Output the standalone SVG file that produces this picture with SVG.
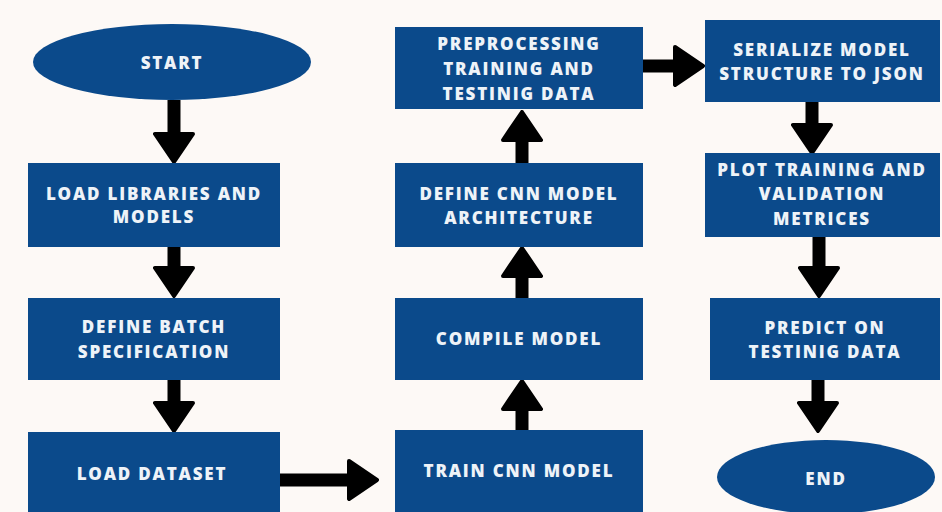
<svg xmlns="http://www.w3.org/2000/svg" width="942" height="512" viewBox="0 0 942 512">
<style>
.n{fill:#0b4a8b}
.t{font-family:"Open Sans","Liberation Sans",sans-serif;font-weight:800;font-size:17px;letter-spacing:1.8px;fill:#eef3f8;text-anchor:middle;dominant-baseline:central}
.c line{stroke:#000;stroke-width:13;marker-end:url(#ah)}
</style>
<defs>
<marker id="ah" markerUnits="userSpaceOnUse" viewBox="0 0 32 42" markerWidth="32" markerHeight="42" refX="2" refY="21" orient="auto">
<path d="M2,2 L30,21 L2,40 Z" fill="#000" stroke="#000" stroke-width="4" stroke-linejoin="round"/>
</marker>
</defs>
<rect width="942" height="512" fill="#fdf9f6"/>
<g class="c" id="connectors">
<line x1="174" y1="100" x2="174" y2="134"/>
<line x1="174" y1="247" x2="174" y2="268"/>
<line x1="174" y1="380" x2="174" y2="403"/>
<line x1="280" y1="480" x2="349" y2="480"/>
<line x1="522" y1="430" x2="522" y2="409"/>
<line x1="522" y1="298" x2="522" y2="276"/>
<line x1="522" y1="163" x2="522" y2="140"/>
<line x1="643" y1="66" x2="675" y2="66"/>
<line x1="812" y1="102" x2="812" y2="125"/>
<line x1="819" y1="237" x2="819" y2="268"/>
<line x1="818" y1="380" x2="818" y2="403"/>
</g>
<g id="start"><ellipse class="n" cx="172" cy="62" rx="139" ry="38"/><text class="t" x="172" y="62">START</text></g>
<g id="load-libraries"><rect class="n" x="28" y="163" width="252" height="84"/><text class="t" x="154" y="193">LOAD LIBRARIES AND</text><text class="t" x="154" y="216">MODELS</text></g>
<g id="define-batch"><rect class="n" x="28" y="298" width="252" height="82"/><text class="t" x="154" y="326">DEFINE BATCH</text><text class="t" x="154" y="351">SPECIFICATION</text></g>
<g id="load-dataset"><rect class="n" x="28" y="432" width="252" height="80"/><text class="t" x="152" y="473">LOAD DATASET</text></g>
<g id="train"><rect class="n" x="395" y="430" width="248" height="82"/><text class="t" x="519" y="470">TRAIN CNN MODEL</text></g>
<g id="compile"><rect class="n" x="395" y="298" width="248" height="82"/><text class="t" x="519" y="338">COMPILE MODEL</text></g>
<g id="define-cnn"><rect class="n" x="395" y="163" width="248" height="84"/><text class="t" x="519" y="193">DEFINE CNN MODEL</text><text class="t" x="519" y="217">ARCHITECTURE</text></g>
<g id="preprocessing"><rect class="n" x="395" y="27" width="248" height="82"/><text class="t" x="519" y="43">PREPROCESSING</text><text class="t" x="519" y="68">TRAINING AND</text><text class="t" x="519" y="93">TESTINIG DATA</text></g>
<g id="serialize"><rect class="n" x="705" y="20" width="235" height="82"/><text class="t" x="822" y="49">SERIALIZE MODEL</text><text class="t" x="822" y="73">STRUCTURE TO JSON</text></g>
<g id="plot"><rect class="n" x="705" y="153" width="235" height="84"/><text class="t" x="822" y="169">PLOT TRAINING AND</text><text class="t" x="822" y="193">VALIDATION</text><text class="t" x="822" y="218">METRICES</text></g>
<g id="predict"><rect class="n" x="710" y="298" width="230" height="82"/><text class="t" x="825" y="327">PREDICT ON</text><text class="t" x="825" y="351">TESTINIG DATA</text></g>
<g id="end"><ellipse class="n" cx="826" cy="477" rx="109" ry="37"/><text class="t" x="826" y="478">END</text></g>
</svg>
